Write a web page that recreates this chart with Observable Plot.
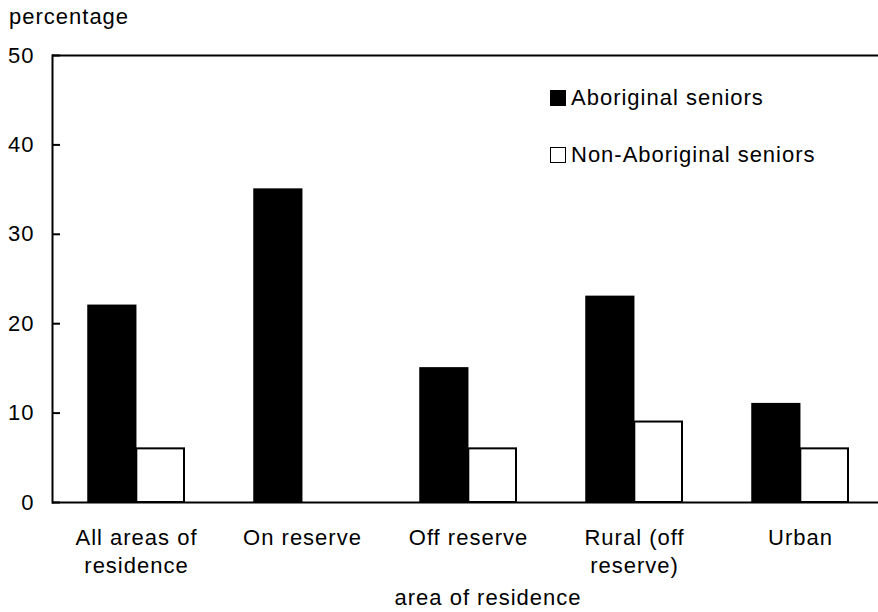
<!DOCTYPE html>
<html>
<head>
<meta charset="utf-8">
<script src="https://cdn.jsdelivr.net/npm/d3@7"></script>
<script src="https://cdn.jsdelivr.net/npm/@observablehq/plot@0.6"></script>
<style>
  html, body { margin: 0; padding: 0; background: #fff; overflow: hidden; }
  body { width: 878px; height: 612px; position: relative; font-family: "Liberation Sans", Arial, sans-serif; color: #000; letter-spacing: 1px; }
  #ylabel { height: 36px; font-size: 22px; line-height: 1; padding-left: 9px; box-sizing: border-box; padding-top: 6px; }
  #xlabel { position: absolute; left: 288px; width: 400px; top: 587px; text-align: center; font-size: 22px; line-height: 1; }
  #legend { position: absolute; left: 550px; top: 86px; font-size: 22px; }
  .item { display: flex; align-items: center; height: 24px; margin-bottom: 33px; }
  .sw { width: 14px; height: 14px; border: 1.5px solid #000; margin-right: 5px; }
  svg text { font-family: "Liberation Sans", Arial, sans-serif; letter-spacing: 1px; }
</style>
</head>
<body>
<div id="ylabel">percentage</div>
<div id="chart"></div>
<div id="xlabel">area of residence</div>
<div id="legend"></div>
<script>
const categories = ["All areas of\nresidence", "On reserve", "Off reserve", "Rural (off\nreserve)", "Urban"];
const series = ["Aboriginal seniors", "Non-Aboriginal seniors"];
const aboriginal = [22, 35, 15, 23, 11];
const nonAboriginal = [6, null, 6, 9, 6];
const yTicks = [0, 10, 20, 30, 40, 50];
const seriesFill = ["#000", "#fff"];

const rowsA = categories.map((c, i) => ({area: c, series: series[0], value: aboriginal[i]}));
const rowsN = categories.map((c, i) => ({area: c, series: series[1], value: nonAboriginal[i]})).filter(d => d.value != null);

const chart = Plot.plot({
  width: 878,
  height: 576,
  marginLeft: 52,
  marginRight: 0,
  marginTop: 19,
  marginBottom: 110,
  style: {fontSize: "22px", fontFamily: "Liberation Sans, Arial, sans-serif", background: "#fff", color: "#000"},
  x: {domain: categories, range: [52, 885], paddingInner: 0.42, paddingOuter: 0.21, label: null},
  y: {domain: [0, 50], label: null},
  marks: [
    Plot.barY(rowsA, {x: "area", y: "value", fill: seriesFill[0], stroke: "#000", strokeWidth: 1.5, insetRight: 48.3}),
    Plot.barY(rowsN, {x: "area", y: "value", fill: seriesFill[1], stroke: "#000", strokeWidth: 2, insetLeft: 48.3}),
    Plot.axisY({ticks: yTicks, tickSize: -8, tickPadding: 26, strokeWidth: 2, label: null, tickFormat: d => d}),
    Plot.axisX({tickSize: 0, tickPadding: 23, label: null, lineHeight: 1.25}),
    Plot.ruleY([0], {strokeWidth: 2}),
    Plot.ruleY([50], {strokeWidth: 2}),
    Plot.frame({anchor: "left", strokeWidth: 2})
  ]
});
document.getElementById("chart").appendChild(chart);

const legend = document.getElementById("legend");
series.forEach((s, i) => {
  const item = document.createElement("div");
  item.className = "item";
  const sw = document.createElement("div");
  sw.className = "sw";
  sw.style.background = seriesFill[i];
  const t = document.createElement("span");
  t.textContent = s;
  item.appendChild(sw);
  item.appendChild(t);
  legend.appendChild(item);
});
</script>
</body>
</html>
